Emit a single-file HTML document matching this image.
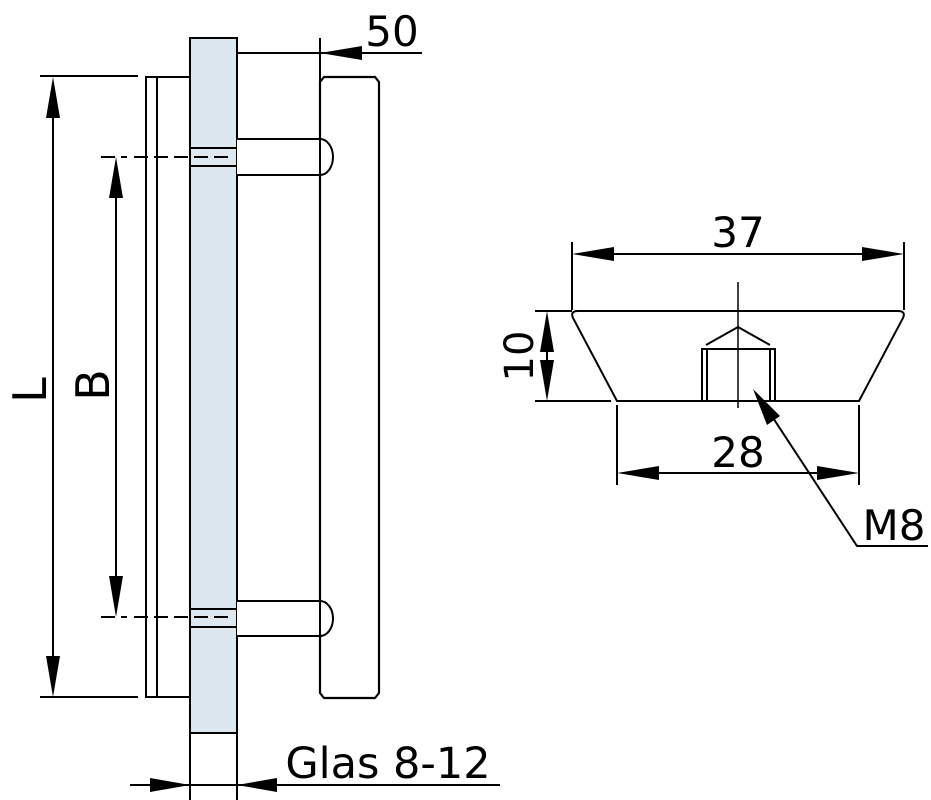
<!DOCTYPE html>
<html><head><meta charset="utf-8"><style>body{margin:0;background:#fff}svg{display:block}text{font-family:"DejaVu Sans","Liberation Sans",sans-serif;fill:#000}</style></head><body>
<svg width="931" height="800" viewBox="0 0 931 800" xmlns="http://www.w3.org/2000/svg">
<g stroke="#000" stroke-width="2" fill="none">
<rect x="190" y="38" width="47" height="695" fill="#dde7f0"/>
<line x1="190" y1="733" x2="190" y2="800"/><line x1="237" y1="733" x2="237" y2="800"/>
<line x1="190" y1="148" x2="237" y2="148"/><line x1="190" y1="166" x2="237" y2="166"/>
<line x1="190" y1="609" x2="237" y2="609"/><line x1="190" y1="627" x2="237" y2="627"/>
<polyline points="190,77 146,77 146,697 190,697"/>
<line x1="157" y1="77" x2="157" y2="697"/>
<line x1="40" y1="76" x2="138" y2="76"/><line x1="40" y1="697" x2="138" y2="697"/>
<line x1="53" y1="90" x2="53" y2="684"/>
<line x1="116" y1="170" x2="116" y2="604"/>
<path d="M101 157H127M134 157H230" stroke-dasharray="14 6"/>
<path d="M101 617H127M134 617H230" stroke-dasharray="14 6"/>
<path d="M320 82L324 77H375L379 82V693L375 698H324L320 693Z" fill="#fff" stroke-width="2.2"/>
<path d="M237 139H320A13 18 0 0 1 320 175H237" fill="#fff"/>
<path d="M237 601H320A13 17.5 0 0 1 320 636H237" fill="#fff"/>
<line x1="320" y1="139" x2="320" y2="175"/><line x1="320" y1="601" x2="320" y2="636"/>
<line x1="237" y1="53" x2="422" y2="53"/><line x1="320" y1="38" x2="320" y2="82"/>
<line x1="130" y1="785" x2="500" y2="785"/>
<line x1="572" y1="242" x2="572" y2="310"/><line x1="904" y1="242" x2="904" y2="310"/>
<line x1="585" y1="254" x2="891" y2="254"/>
<path d="M578 311H898Q906 311 903 318L859 401H617L573 318Q570 311 578 311Z"/>
<line x1="535" y1="311" x2="572" y2="311"/><line x1="535" y1="401" x2="611" y2="401"/>
<line x1="547" y1="322" x2="547" y2="390"/>
<line x1="738" y1="282" x2="738" y2="408" stroke-width="1.5"/>
<polyline points="706,345 738,327 770,345"/>
<rect x="702" y="349" width="73" height="52"/>
<line x1="707" y1="349" x2="707" y2="401"/><line x1="770" y1="349" x2="770" y2="401"/>
<line x1="617" y1="405" x2="617" y2="485"/><line x1="859" y1="405" x2="859" y2="485"/>
<line x1="630" y1="473" x2="846" y2="473"/>
<polyline points="760,398 857,546 928,546"/>
</g>
<g fill="#000">
<polygon points="53,77 46,118 60,118"/><polygon points="53,697 46,656 60,656"/>
<polygon points="116,157 109,198 123,198"/><polygon points="116,617 109,576 123,576"/>
<polygon points="320,53 362,46 362,60"/>
<polygon points="190,785 150,778 150,792"/><polygon points="237,785 277,778 277,792"/>
<polygon points="572,254 614,247 614,261"/><polygon points="904,254 862,247 862,261"/>
<polygon points="547,311 540,352 554,352"/><polygon points="547,401 540,360 554,360"/>
<polygon points="617,473 659,466 659,480"/><polygon points="859,473 817,466 817,480"/>
<polygon points="753,389 767,425 780,416"/>
</g>
<text x="392" y="46" font-size="42" text-anchor="middle">50</text>
<text x="388" y="778" font-size="43" text-anchor="middle">Glas 8-12</text>
<text x="738" y="247" font-size="42" text-anchor="middle">37</text>
<text x="738" y="467" font-size="42" text-anchor="middle">28</text>
<text x="894" y="540" font-size="42" text-anchor="middle">M8</text>
<text transform="translate(46,390) rotate(-90)" font-size="46" text-anchor="middle">L</text>
<text transform="translate(109,385) rotate(-90)" font-size="46" text-anchor="middle">B</text>
<text transform="translate(533,356) rotate(-90)" font-size="40" text-anchor="middle">10</text>
</svg>
</body></html>
